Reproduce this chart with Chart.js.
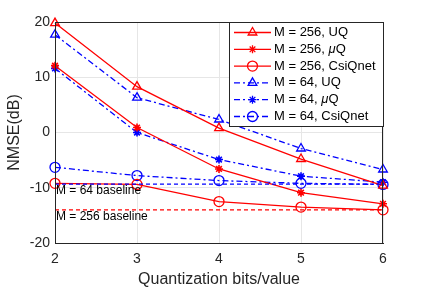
<!DOCTYPE html>
<html>
<head>
<meta charset="utf-8">
<script src="https://cdn.jsdelivr.net/npm/chart.js@4.4.0/dist/chart.umd.min.js"></script>
<style>
  html, body { margin: 0; padding: 0; background: #fff; }
  #wrap { width: 424px; height: 289px; }
</style>
</head>
<body>
<div id="wrap"><canvas id="chart" width="424" height="289"></canvas></div>
<script>
// data
const bits = [2, 3, 4, 5, 6];
const m256UQ = [19.8, 8.3, 0.8, -4.8, -9.6];
const m256MuQ = [12.1, 0.9, -6.6, -10.9, -12.9];
const m256Csi = [-9.2, -9.4, -12.5, -13.5, -14.0];
const m64UQ = [17.7, 6.3, 2.35, -2.9, -6.7];
const m64MuQ = [11.6, 0.0, -4.9, -7.9, -9.0];
const m64Csi = [-6.3, -7.8, -8.7, -9.2, -9.4];
const baseline64 = -9.35;
const baseline256 = -14.0;

const font = 'Liberation Sans, Arial, sans-serif';
const red = '#ff0000';
const blue = '#0000ff';
const dashDot = [6, 3, 2, 3];

function pts(vals) {
  return vals.map((v, i) => ({ x: bits[i], y: v }));
}

function series(label, vals, color, style, dash) {
  return {
    label: label,
    data: pts(vals),
    borderColor: color,
    backgroundColor: 'rgba(0,0,0,0)',
    borderWidth: 1.3,
    borderDash: dash,
    pointStyle: style,
    pointRadius: style === 'star' ? 4 : 5,
    pointBorderWidth: style === 'star' ? 1.6 : 1.3,
    pointBorderColor: color,
    pointBackgroundColor: 'rgba(0,0,0,0)',
    tension: 0,
    clip: false
  };
}

function baseline(val, color) {
  return {
    label: '',
    data: [{ x: bits[0], y: val }, { x: bits[bits.length - 1], y: val }],
    borderColor: color,
    borderWidth: 1.2,
    borderDash: [4, 3],
    pointRadius: 0,
    isBaseline: true
  };
}

const datasets = [
  baseline(baseline64, blue),
  baseline(baseline256, red),
  series('M = 256, UQ', m256UQ, red, 'triangle', []),
  series('M = 256, μQ', m256MuQ, red, 'star', []),
  series('M = 256, CsiQnet', m256Csi, red, 'circle', []),
  series('M = 64, UQ', m64UQ, blue, 'triangle', dashDot),
  series('M = 64, μQ', m64MuQ, blue, 'star', dashDot),
  series('M = 64, CsiQnet', m64Csi, blue, 'circle', dashDot)
];

// frame, baseline labels and matlab-style legend
const extras = {
  id: 'extras',
  afterDatasetsDraw(chart) {
    const c = chart.ctx;
    const a = chart.chartArea;
    const xs = chart.scales.x, ys = chart.scales.y;
    c.save();
    c.strokeStyle = '#262626';
    c.lineWidth = 1;
    c.strokeRect(a.left + 0.5, a.top + 0.5, a.right - a.left - 1, a.bottom - a.top);

    c.fillStyle = '#000';
    c.font = '12px ' + font;
    c.textBaseline = 'middle';
    c.fillText('M = 64 baseline', xs.getPixelForValue(2) + 1, ys.getPixelForValue(baseline64) + 7);
    c.fillText('M = 256 baseline', xs.getPixelForValue(2) + 1, ys.getPixelForValue(baseline256) + 7);

    // legend
    const lx = 229, ly = 22, lw = 154, lh = 104;
    c.fillStyle = '#fff';
    c.fillRect(lx, ly, lw, lh);
    c.strokeStyle = '#262626';
    c.lineWidth = 1;
    c.strokeRect(lx + 0.5, ly + 0.5, lw, lh);
    const items = datasets.filter(d => !d.isBaseline);
    items.forEach((d, i) => {
      const y = ly + 10.5 + i * 16.8;
      c.strokeStyle = d.borderColor;
      c.lineWidth = 1.3;
      c.setLineDash(d.borderDash);
      c.beginPath();
      c.moveTo(lx + 5, y);
      c.lineTo(lx + 42, y);
      c.stroke();
      c.setLineDash([]);
      c.fillStyle = 'rgba(0,0,0,0)';
      c.strokeStyle = d.borderColor;
      Chart.helpers.drawPoint(c, {
        pointStyle: d.pointStyle, radius: d.pointRadius, borderWidth: 1.3, rotation: 0
      }, lx + 23.5, y);
      c.fillStyle = '#000';
      c.font = '13px ' + font;
      c.textBaseline = 'middle';
      const parts = d.label.split('μ');
      let tx = lx + 45;
      c.fillText(parts[0], tx, y);
      if (parts.length > 1) {
        tx += c.measureText(parts[0]).width;
        c.font = 'italic 13px ' + font;
        c.fillText('μ', tx, y);
        tx += c.measureText('μ').width;
        c.font = '13px ' + font;
        c.fillText(parts[1], tx, y);
      }
    });
    c.restore();
  }
};

new Chart(document.getElementById('chart'), {
  type: 'line',
  data: { datasets: datasets },
  options: {
    responsive: false,
    animation: false,
    layout: { padding: { top: 22, right: 41, left: 0, bottom: 0 } },
    plugins: {
      legend: { display: false },
      tooltip: { enabled: false }
    },
    scales: {
      x: {
        type: 'linear',
        min: 2, max: 6,
        ticks: { stepSize: 1, color: '#262626', font: { family: font, size: 14 }, padding: 8 },
        grid: { color: '#e6e6e6', drawTicks: false },
        border: { color: '#262626' },
        title: { display: true, text: 'Quantization bits/value', color: '#262626', font: { family: font, size: 16 }, padding: { top: 3, bottom: 0 } },
        afterFit(s) { s.height = 46; }
      },
      y: {
        min: -20, max: 20,
        ticks: { stepSize: 10, color: '#262626', font: { family: font, size: 14 }, padding: 5 },
        grid: { color: '#e6e6e6', drawTicks: false },
        border: { color: '#262626' },
        title: { display: true, text: 'NMSE(dB)', color: '#262626', font: { family: font, size: 16 }, padding: { top: 5, bottom: 2 } },
        afterFit(s) { s.width = 55; }
      }
    }
  },
  plugins: [extras]
});
</script>
</body>
</html>
